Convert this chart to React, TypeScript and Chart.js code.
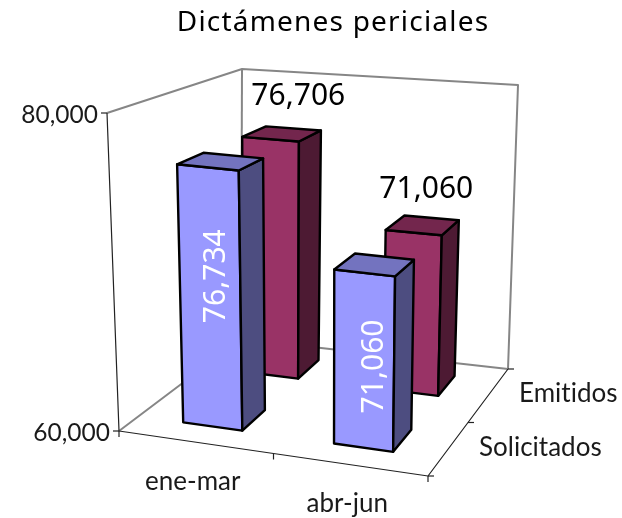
import React, { useEffect, useRef } from "react";
import { Chart, registerables } from "chart.js";

Chart.register(...registerables);

const TITLE = "Dictámenes periciales";
const categories = ["ene-mar", "abr-jun"];
const depthLabels = ["Solicitados", "Emitidos"];
const solicitados = [76734, 71060];
const emitidos = [76706, 71060];
const yMin = 60000;
const yMax = 80000;
const yStep = 20000;

const FACE = [
  { front: "#9999FF", top: "#7373BF", side: "#4D4D80" },
  { front: "#993366", top: "#73264D", side: "#4D1A33" },
];

// perspective box: floor corners (u,w) and height vectors
const FLOOR = { p00: [119, 431], p10: [428, 476], p01: [241, 339], p11: [508, 369] };
const RISE = { p00: [-12, -318], p10: [5, -330.5], p01: [1, -270], p11: [10, -284] };
const BAR_HALF_WIDTH = 0.098;
const BAR_SHIFT = [[-3, 1], [-2.5, -1]];
const RISE_SCALE = [0.99, 0.98];
const DEPTH_SHIFT = [0.03, 0.035];
const BAR_HALF_DEPTH = [0.105, 0.095];
const LABEL_FONT = "26px Lato";
const TICK_FONT = "24.5px Lato";
const VALUE_FONT = '30px "Noto Sans"';
const TITLE_FONT = '28px "Noto Sans"';
const INK = "#1a1a1a";
// value-label offsets from the bar's top centre [series][category]
const LABEL_OFFSET = [
  [[-7, 118], [-3, 104]],
  [[15, -34], [2, -34]],
];

function bilerp(c: any, u: number, w: number) {
  const f = (i: number) =>
    (1 - u) * (1 - w) * c.p00[i] + u * (1 - w) * c.p10[i] + (1 - u) * w * c.p01[i] + u * w * c.p11[i];
  return [f(0), f(1)];
}
function project(u: number, v: number, w: number) {
  const a = bilerp(FLOOR, u, w);
  const b = bilerp(RISE, u, w);
  return [a[0] + v * b[0], a[1] + v * b[1]];
}

function poly(ctx: CanvasRenderingContext2D, pts: number[][], fill: string | null, stroke: string, lw: number, close = true) {
  ctx.beginPath();
  pts.forEach((p, i) => (i ? ctx.lineTo(p[0], p[1]) : ctx.moveTo(p[0], p[1])));
  if (close) ctx.closePath();
  if (fill) {
    ctx.fillStyle = fill;
    ctx.fill();
  }
  ctx.strokeStyle = stroke;
  ctx.lineWidth = lw;
  ctx.lineJoin = "round";
  ctx.stroke();
}

function text(ctx: CanvasRenderingContext2D, s: string, x: number, y: number, font: string, color: string, align: CanvasTextAlign, spacing = "0.01px", rot = 0) {
  ctx.save();
  ctx.translate(x, y);
  ctx.rotate(rot);
  ctx.font = font;
  (ctx as any).letterSpacing = spacing;
  ctx.fillStyle = color;
  ctx.textAlign = align;
  ctx.textBaseline = "middle";
  ctx.fillText(s, 0, 0);
  ctx.restore();
}

const box3d = {
  id: "box3d",
  afterDatasetsDraw(chart: any) {
    const { ctx, scales, chartArea: ca } = chart;
    const U = (px: number) => (px - ca.left) / (ca.right - ca.left);
    const V = (px: number) => (ca.bottom - px) / (ca.bottom - ca.top);
    const xs = scales.x, ys = scales.y, zs = scales.z;
    const gray = "#868686";
    const P = project;

    ctx.save();
    // walls and floor
    poly(ctx, [P(0, 1, 0), P(0, 1, 1), P(1, 1, 1), P(1, 0, 1)], null, gray, 2, false);
    poly(ctx, [P(0, 1, 1), P(0, 0, 1)], null, gray, 2, false);
    poly(ctx, [P(0, 0, 0), P(0, 0, 1), P(1, 0, 1)], null, gray, 2, false);
    // front axes
    poly(ctx, [P(0, 1, 0), P(0, 0, 0), P(1, 0, 0), P(1, 0, 1)], null, "#222222", 1.2, false);
    for (const t of ys.ticks) {
      const p = P(0, V(ys.getPixelForValue(t.value)), 0);
      poly(ctx, [[p[0] - 6, p[1]], [p[0], p[1]]], null, "#222222", 1.2, false);
      const lbl = t.label as string;
      text(ctx, lbl, p[0] - 9, p[1] + 2, TICK_FONT, INK, "right");
    }
    [0, 0.5, 1].forEach((u) => {
      const p = P(u, 0, 0);
      poly(ctx, [p, [p[0], p[1] + 6]], null, "#222222", 1.2, false);
    });
    [0, 0.5, 1].forEach((w) => {
      const p = P(1, 0, w);
      poly(ctx, [p, [p[0] + 6, p[1]]], null, "#222222", 1.2, false);
    });

    // bars: back row first
    const series = [1, 0];
    for (const s of series) {
      const wc = U(zs.getPixelForValue(s)) + DEPTH_SHIFT[s];
      const hd = BAR_HALF_DEPTH[s];
      const ds = chart.data.datasets[s];
      const B = (u: number, v: number, w: number) => {
        const p = project(u, v * RISE_SCALE[s], w);
        return [p[0] + BAR_SHIFT[s][0], p[1] + BAR_SHIFT[s][1]];
      };
      ds.data.forEach((val: number, c: number) => {
        const uc = U(xs.getPixelForValue(c));
        const v = V(ys.getPixelForValue(val));
        const u0 = uc - BAR_HALF_WIDTH, u1 = uc + BAR_HALF_WIDTH, w0 = wc - hd, w1 = wc + hd;
        const f = FACE[s];
        poly(ctx, [B(u0, 0, w0), B(u1, 0, w0), B(u1, v, w0), B(u0, v, w0)], f.front, "#000", 2.4);
        poly(ctx, [B(u1, 0, w0), B(u1, 0, w1), B(u1, v, w1), B(u1, v, w0)], f.side, "#000", 2.4);
        poly(ctx, [B(u0, v, w0), B(u1, v, w0), B(u1, v, w1), B(u0, v, w1)], f.top, "#000", 2.4);
      });
    }
    // value labels
    for (const s of series) {
      const wc = U(zs.getPixelForValue(s)) + 0.025;
      const ds = chart.data.datasets[s];
      ds.data.forEach((val: number, c: number) => {
        const uc = U(xs.getPixelForValue(c));
        const v = V(ys.getPixelForValue(val));
        const p = P(uc, v, wc);
        const o = LABEL_OFFSET[s][c];
        const str = val.toLocaleString("en-US");
        if (s === 1) text(ctx, str, p[0] + o[0], p[1] + o[1], VALUE_FONT, "#000", "center");
        else text(ctx, str, p[0] + o[0], p[1] + o[1], VALUE_FONT, "#fff", "center", "0.01px", -Math.PI / 2);
      });
    }
    // category labels
    categories.forEach((lab, i) => {
      const p = P(U(xs.getPixelForValue(i)), 0, 0);
      text(ctx, lab, p[0] - 3.5, p[1] + 39, LABEL_FONT, INK, "center");
    });
    depthLabels.forEach((lab, i) => {
      const p = P(1, 0, U(zs.getPixelForValue(i)));
      text(ctx, lab, p[0] + 31, p[1] - 2, LABEL_FONT, INK, "left");
    });
    text(ctx, TITLE, 333, 23, TITLE_FONT, "#000", "center", "1.2px");
    ctx.restore();
  },
};

export default function App() {
  const ref = useRef<HTMLCanvasElement>(null);
  useEffect(() => {
    const chart = new Chart(ref.current as HTMLCanvasElement, {
      type: "bar",
      data: {
        labels: categories,
        datasets: [
          { label: depthLabels[0], data: solicitados, backgroundColor: "transparent", borderWidth: 0 },
          { label: depthLabels[1], data: emitidos, backgroundColor: "transparent", borderWidth: 0 },
        ],
      },
      options: {
        responsive: false,
        animation: false,
        layout: { padding: { left: 119, right: 194, top: 113, bottom: 87 } },
        plugins: { legend: { display: false }, tooltip: { enabled: false }, title: { display: false } },
        scales: {
          x: { display: false, offset: true, grid: { display: false } },
          y: {
            display: false,
            min: yMin,
            max: yMax,
            ticks: {
              stepSize: yStep,
              callback: (v: any) => Number(v).toLocaleString("en-US"),
            },
          },
          z: { type: "category", axis: "x", display: false, offset: true, labels: depthLabels },
        },
      } as any,
      plugins: [box3d],
    });
    return () => chart.destroy();
  }, []);
  return (
    <div style={{ position: "absolute", left: 0, top: 0, width: 622, height: 518, background: "#fff" }}>
      <canvas ref={ref} width={622} height={518} style={{ display: "block" }} />
    </div>
  );
}
